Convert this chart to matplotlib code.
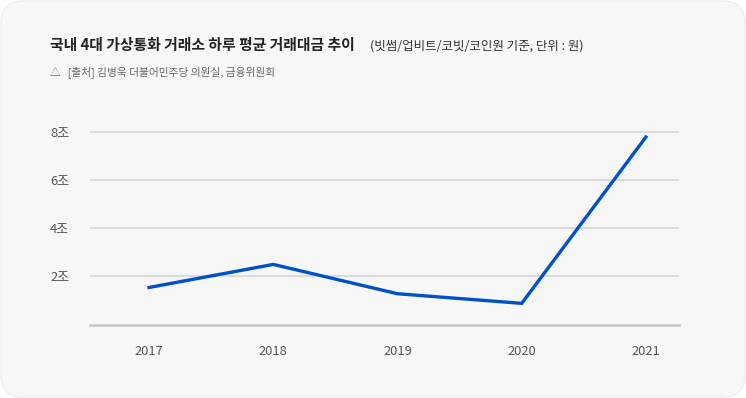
import matplotlib
matplotlib.use('Agg')
import matplotlib.pyplot as plt
from matplotlib.patches import FancyBboxPatch
from matplotlib.transforms import IdentityTransform

plt.rcParams['font.family'] = ['Noto Sans CJK KR', 'DejaVu Sans']

years = [2017, 2018, 2019, 2020, 2021]
# 하루 평균 거래대금 (조원)
trade_value = [1.54, 2.5, 1.28, 0.88, 7.8]
y_ticks = [2, 4, 6, 8]
y_labels = ['2조', '4조', '6조', '8조']

title = '국내 4대 가상통화 거래소 하루 평균 거래대금 추이'
subtitle = '(빗썸/업비트/코빗/코인원 기준, 단위 : 원)'
source = '△   [출처] 김병욱 더불어민주당 의원실, 금융위원회'

W, H = 746, 398
fig = plt.figure(figsize=(W / 100, H / 100), dpi=100, facecolor='white')

# rounded card behind everything
card = FancyBboxPatch((1, 1), W - 2, H - 2,
                      boxstyle='round,pad=0,rounding_size=22',
                      transform=IdentityTransform(),
                      facecolor='#f7f7f7', edgecolor='#eeeeee', linewidth=1,
                      zorder=-10)
fig.patches.append(card)

ax = fig.add_axes([90 / W, 1 - 324.5 / H, (679 - 90) / W, (324.5 - 125) / H])
ax.set_facecolor('none')

ax.plot(years, trade_value, color='#0050cc', linewidth=2.4, solid_joinstyle='miter')

ax.set_xlim(2017 - 0.475, 2021 + 0.266)
ax.set_ylim(0, 8.3)
ax.set_xticks(years)
ax.set_xticklabels([str(y) for y in years])
ax.set_yticks(y_ticks)
ax.set_yticklabels(y_labels)

ax.grid(axis='y', color='#dcdcdc', linewidth=1.5)
ax.set_axisbelow(True)
for s in ['top', 'right', 'left']:
    ax.spines[s].set_visible(False)
ax.spines['bottom'].set_color('#c6c6c6')
ax.spines['bottom'].set_linewidth(1.8)

# 라벨 오른쪽 끝이 x=69px 근처
ax.tick_params(axis='both', length=0, labelsize=9.3, labelcolor='#555555')
ax.tick_params(axis='y', pad=15)
ax.tick_params(axis='x', pad=15)

fig.text(50 / W, 1 - 45 / H, title, fontsize=10.7, fontweight='bold',
         color='#222222', va='center', ha='left')
fig.text(370 / W, 1 - 46 / H, subtitle, fontsize=9, fontweight='medium',
         color='#333333', va='center', ha='left')
fig.text(50 / W, 1 - 72 / H, source, fontsize=7.7, color='#666666',
         va='center', ha='left')

fig.savefig('out.png', dpi=100, facecolor='white')
